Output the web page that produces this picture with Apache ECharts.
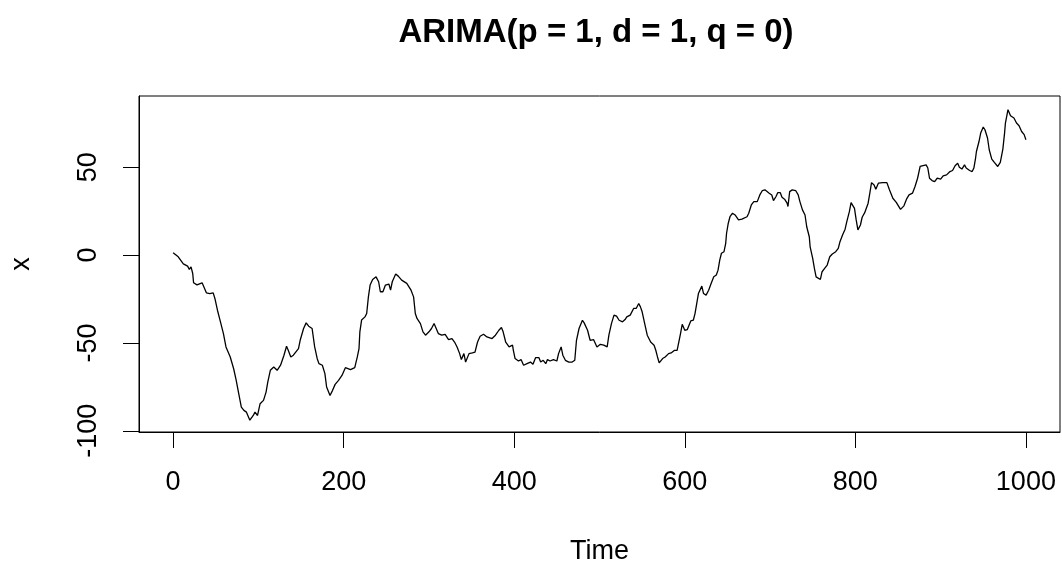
<!DOCTYPE html>
<html>
<head>
<meta charset="utf-8">
<script src="https://cdn.jsdelivr.net/npm/echarts@6/dist/echarts.min.js"></script>
<style>
html,body{margin:0;padding:0;background:#fff;}
#chart{width:1062px;height:575px;}
</style>
</head>
<body>
<div id="chart"></div>
<script>
const titleText = "ARIMA(p = 1, d = 1, q = 0)";
const xAxisName = "Time";
const yAxisName = "x";
const xTicks = [0, 200, 400, 600, 800, 1000];
const yTicks = [-100, -50, 0, 50];

const times = [
0,6,12,17,19,21,23,24,28,34,36,39,43,47,49,52,55,59,62,67,71,74,77,80,83,86,90,94,96,99,
102,106,109,111,114,118,122,126,130,133,135,138,141,147,149,153,156,159,163,166,169,171,175,178,180,184,187,190,194,198,
202,208,213,216,218,219,221,225,227,229,231,234,238,241,243,246,249,251,253,255,257,261,264,268,270,274,279,282,284,286,
290,293,296,300,303,306,308,311,315,319,323,327,330,333,336,338,341,343,345,347,351,354,357,360,364,368,374,378,382,385,
387,390,394,398,399,401,405,408,411,415,419,422,425,429,431,434,437,439,442,446,450,452,455,457,460,464,468,471,473,476,
480,482,486,489,493,497,501,505,509,511,514,517,520,523,527,530,532,536,540,543,546,548,550,553,556,560,564,566,568,570,
574,577,581,584,588,591,593,595,597,600,603,607,610,612,614,616,620,622,625,628,631,634,637,639,641,643,646,648,649,651,
653,656,659,663,667,669,673,675,678,681,685,688,691,694,696,699,702,704,707,709,712,714,717,720,721,723,726,730,733,735,
738,741,743,746,747,750,752,754,756,759,761,764,767,770,773,777,780,782,785,788,790,793,795,799,801,803,806,808,811,813,
815,817,819,822,824,827,832,837,840,844,848,853,857,860,863,867,870,873,876,878,883,885,887,890,893,896,900,903,907,911,
914,917,920,922,925,928,930,934,937,939,941,942,945,947,950,952,955,957,960,963,967,970,973,975,976,979,981,982,986,989,
992,995,998,1000
];

const values = [
1.3,-1,-5,-6.3,-8.2,-6.7,-10.5,-15.8,-17,-15.8,-18,-21.5,-21.9,-21.5,-24.7,-31.4,-37,-44.7,-52.3,-58,-64.7,-71.3,-79,-86.5,-88.4,-89.4,-94,-91.3,-89.4,-91.3,
-84.6,-82.7,-78,-72.3,-65.6,-63.7,-65.6,-62.7,-57,-51.9,-54.2,-58,-57,-53.2,-48.5,-41.8,-38.6,-40.5,-41.8,-52.3,-59,-61.8,-62.7,-67.5,-75.1,-79.9,-77,-73.6,-71.3,-68.5,
-64.1,-65.2,-64.1,-58,-53.2,-43.7,-37,-35.2,-33.3,-23.8,-17.1,-13.9,-12.4,-15.2,-20.9,-20.9,-17.1,-18.1,-16.5,-20,-15.2,-10.8,-12,-14.3,-13.3,-16.1,-20,-23.8,-33.3,-36.1,
-39,-43.7,-45.6,-43.7,-41.8,-39,-39.9,-44.7,-45.6,-45.1,-48.1,-47.5,-49.5,-52.3,-56.1,-59.5,-56.1,-60.9,-61.8,-56.1,-55.7,-55.2,-49.5,-46.2,-45.1,-46.6,-47.5,-45.6,-42.8,-41.2,
-43.7,-49.5,-52.3,-51.3,-54.2,-58.9,-60.3,-59.5,-62.7,-61.8,-60.9,-62.2,-58.4,-58.4,-60.9,-59.9,-61.8,-59.5,-60.3,-59.5,-60.3,-56.1,-52.3,-57,-59.9,-60.9,-60.9,-59.9,-48.5,-41.8,
-37.1,-38.6,-42.8,-48.5,-48.1,-52.3,-50.8,-51.3,-52.3,-45.6,-39,-34.2,-34.8,-37.1,-38,-36.7,-35.2,-34.2,-30.4,-30.4,-27.6,-29.5,-32.3,-39,-45.6,-49.5,-51.3,-54.2,-58,-61.4,
-58.9,-58,-56.1,-55.7,-54.2,-54.2,-49.5,-44.7,-39.4,-42.8,-42.4,-37.5,-37.1,-33.3,-27.6,-21.9,-17.7,-21.9,-22.8,-20,-16.1,-12.4,-11.4,-8.6,-2.9,1,1.9,6.7,12.4,18.1,
21.8,23.8,22.8,20,20.4,20,21.8,23.8,28.5,30.4,30.4,34.2,36.7,37.1,38,35.2,34.2,31,33.3,35.5,35.5,32.9,31.8,29.5,27.6,36.1,37.1,36.7,34.2,30.4,
25.7,22.8,16.1,10.4,4.7,-1.9,-7.6,-12.4,-12.4,-13.9,-9.5,-7.6,-5.7,-1,0.6,1.9,3.8,7.6,11.4,14.7,19,24.7,29.8,26.6,20,14.3,17.1,21.5,24.1,24.7,
29.5,35.2,41.2,39.9,37.5,40.9,41.2,41.2,37.1,32.3,30,26,28,31.8,34.2,35.2,39,43.7,50.4,51.3,51.3,49.5,43.7,42.4,41.8,43.7,43.2,45.1,45.6,47.5,
48.1,50.8,52.3,50,48.9,51.3,49.5,48.1,47.5,49.5,55.2,58.9,64.6,69.4,72.8,71.3,66.6,59.9,54.6,52.7,50.4,52.7,60.3,69.4,75.1,82.7,81.7,79.3,78,75.1,
73.6,70.3,68.5,65.6
];

const seriesData = times.map((t, i) => [t, values[i]]);
const FONT = "'Liberation Sans', Arial, sans-serif";

const chart = echarts.init(document.getElementById('chart'), null, {renderer: 'canvas'});
chart.setOption({
  animation: false,
  backgroundColor: '#fff',
  graphic: [{
    type: 'text', x: 596, y: 33,
    style: {text: titleText, font: "bold 33px " + FONT, fill: '#000', textAlign: 'center', textVerticalAlign: 'middle'}
  }],
  grid: {left: 138, right: 2, top: 96, bottom: 143, show: true, borderColor: '#000', borderWidth: 1, containLabel: false},
  xAxis: {
    type: 'value', min: -40, max: 1040,
    name: xAxisName, nameLocation: 'middle', nameGap: 106,
    nameTextStyle: {fontFamily: FONT, fontSize: 27, color: '#000'},
    axisLine: {show: true, onZero: false, lineStyle: {color: '#000', width: 1}},
    axisTick: {show: true, length: 16, inside: false, customValues: xTicks, lineStyle: {color: '#000', width: 1}},
    axisLabel: {show: true, customValues: xTicks, margin: 37, fontFamily: FONT, fontSize: 27, color: '#000',
      formatter: v => String(v)},
    splitLine: {show: false}
  },
  yAxis: {
    type: 'value', min: -100.7, max: 90.5,
    name: yAxisName, nameLocation: 'middle', nameGap: 104, nameRotate: 90,
    nameTextStyle: {fontFamily: FONT, fontSize: 27, color: '#000'},
    axisLine: {show: true, onZero: false, lineStyle: {color: '#000', width: 1}},
    axisTick: {show: true, length: 16, inside: false, customValues: yTicks, lineStyle: {color: '#000', width: 1}},
    axisLabel: {show: true, customValues: yTicks, rotate: 90, margin: 37, fontFamily: FONT, fontSize: 27, color: '#000',
      formatter: v => String(v)},
    splitLine: {show: false}
  },
  series: [{
    type: 'line', data: seriesData, showSymbol: false, symbol: 'none', smooth: false,
    lineStyle: {color: '#000', width: 1.3}, silent: true
  }]
});
</script>
</body>
</html>
